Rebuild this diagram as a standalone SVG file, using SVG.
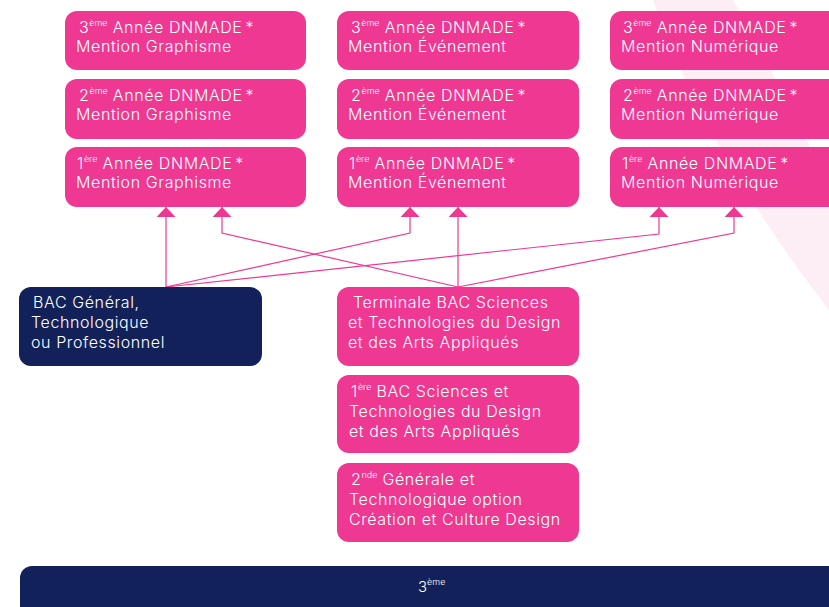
<svg xmlns="http://www.w3.org/2000/svg" width="829" height="607" viewBox="0 0 829 607">
<defs>
<style>
.pink{fill:#ee3892}
.navy{fill:#13215a}
text{font-family:Inter,"Noto Sans","Liberation Sans",sans-serif;font-size:16px;font-weight:300;fill:#ffffff;letter-spacing:0.6px}
.sup{font-size:9px;letter-spacing:0}
.con{fill:none;stroke:#ee3892;stroke-width:1.2}
</style>
<marker id="ah" viewBox="0 0 10 19" refX="10" refY="9.5" markerWidth="10" markerHeight="19" markerUnits="userSpaceOnUse" orient="auto">
<path d="M0,0 L10,9.5 L0,19 Z" fill="#ee3892"/>
</marker>
</defs>
<rect width="829" height="607" fill="#ffffff"/>
<path d="M653,0 L733,0 Q785,95 829,185 L829,310 Q705,150 653,0 Z" fill="#fdedf5"/>

<g id="connectors">
<polyline class="con" points="166,287 166,207" marker-end="url(#ah)"/>
<polyline class="con" points="166,287 410,233 410,207" marker-end="url(#ah)"/>
<polyline class="con" points="166,287 659,234 659,207" marker-end="url(#ah)"/>
<polyline class="con" points="458,287 458,207" marker-end="url(#ah)"/>
<polyline class="con" points="458,287 222,233 222,207" marker-end="url(#ah)"/>
<polyline class="con" points="458,287 734,233 734,207" marker-end="url(#ah)"/>
</g>

<g id="g3">
<rect class="pink" x="65" y="11" width="241" height="59" rx="12"/>
<text x="79" y="33">3<tspan class="sup" dy="-7">ème</tspan><tspan dy="7"> Année DNMADE</tspan><tspan dx="3">*</tspan></text>
<text x="76" y="52">Mention Graphisme</text>
</g>
<g id="g2">
<rect class="pink" x="65" y="79" width="241" height="60" rx="12"/>
<text x="79" y="101">2<tspan class="sup" dy="-7">ème</tspan><tspan dy="7"> Année DNMADE</tspan><tspan dx="3">*</tspan></text>
<text x="76" y="120">Mention Graphisme</text>
</g>
<g id="g1">
<rect class="pink" x="65" y="147" width="241" height="60" rx="12"/>
<text x="77" y="169">1<tspan class="sup" dy="-7">ère</tspan><tspan dy="7"> Année DNMADE</tspan><tspan dx="3">*</tspan></text>
<text x="76" y="188">Mention Graphisme</text>
</g>

<g id="e3">
<rect class="pink" x="337" y="11" width="242" height="59" rx="12"/>
<text x="351" y="33">3<tspan class="sup" dy="-7">ème</tspan><tspan dy="7"> Année DNMADE</tspan><tspan dx="3">*</tspan></text>
<text x="348" y="52">Mention Événement</text>
</g>
<g id="e2">
<rect class="pink" x="337" y="79" width="242" height="60" rx="12"/>
<text x="351" y="101">2<tspan class="sup" dy="-7">ème</tspan><tspan dy="7"> Année DNMADE</tspan><tspan dx="3">*</tspan></text>
<text x="348" y="120">Mention Événement</text>
</g>
<g id="e1">
<rect class="pink" x="337" y="147" width="242" height="60" rx="12"/>
<text x="349" y="169">1<tspan class="sup" dy="-7">ère</tspan><tspan dy="7"> Année DNMADE</tspan><tspan dx="3">*</tspan></text>
<text x="348" y="188">Mention Événement</text>
</g>

<g id="n3">
<rect class="pink" x="610" y="11" width="240" height="59" rx="12"/>
<text x="623" y="33">3<tspan class="sup" dy="-7">ème</tspan><tspan dy="7"> Année DNMADE</tspan><tspan dx="3">*</tspan></text>
<text x="621" y="52">Mention Numérique</text>
</g>
<g id="n2">
<rect class="pink" x="610" y="79" width="240" height="60" rx="12"/>
<text x="623" y="101">2<tspan class="sup" dy="-7">ème</tspan><tspan dy="7"> Année DNMADE</tspan><tspan dx="3">*</tspan></text>
<text x="621" y="120">Mention Numérique</text>
</g>
<g id="n1">
<rect class="pink" x="610" y="147" width="240" height="60" rx="12"/>
<text x="622" y="169">1<tspan class="sup" dy="-7">ère</tspan><tspan dy="7"> Année DNMADE</tspan><tspan dx="3">*</tspan></text>
<text x="621" y="188">Mention Numérique</text>
</g>

<g id="bac">
<rect class="navy" x="19" y="287" width="243" height="79" rx="12"/>
<text x="33" y="308">BAC Général,</text>
<text x="31" y="328">Technologique</text>
<text x="31" y="348">ou Professionnel</text>
</g>
<g id="terminale">
<rect class="pink" x="337" y="287" width="242" height="79" rx="12"/>
<text x="353" y="308">Terminale BAC Sciences</text>
<text x="348" y="328">et Technologies du Design</text>
<text x="348" y="348">et des Arts Appliqués</text>
</g>
<g id="premiere">
<rect class="pink" x="337" y="375" width="242" height="78" rx="12"/>
<text x="351" y="397">1<tspan class="sup" dy="-7">ère</tspan><tspan dy="7"> BAC Sciences et</tspan></text>
<text x="349" y="417">Technologies du Design</text>
<text x="349" y="437">et des Arts Appliqués</text>
</g>
<g id="seconde">
<rect class="pink" x="337" y="463" width="242" height="79" rx="12"/>
<text x="351" y="485">2<tspan class="sup" dy="-7">nde</tspan><tspan dy="7"> Générale et</tspan></text>
<text x="349" y="505">Technologique option</text>
<text x="349" y="525">Création et Culture Design</text>
</g>
<g id="troisieme">
<rect class="navy" x="20" y="566" width="840" height="60" rx="12"/>
<text x="418" y="592" style="font-size:15px;letter-spacing:0">3<tspan class="sup" dy="-7">ème</tspan></text>
</g>
</svg>
